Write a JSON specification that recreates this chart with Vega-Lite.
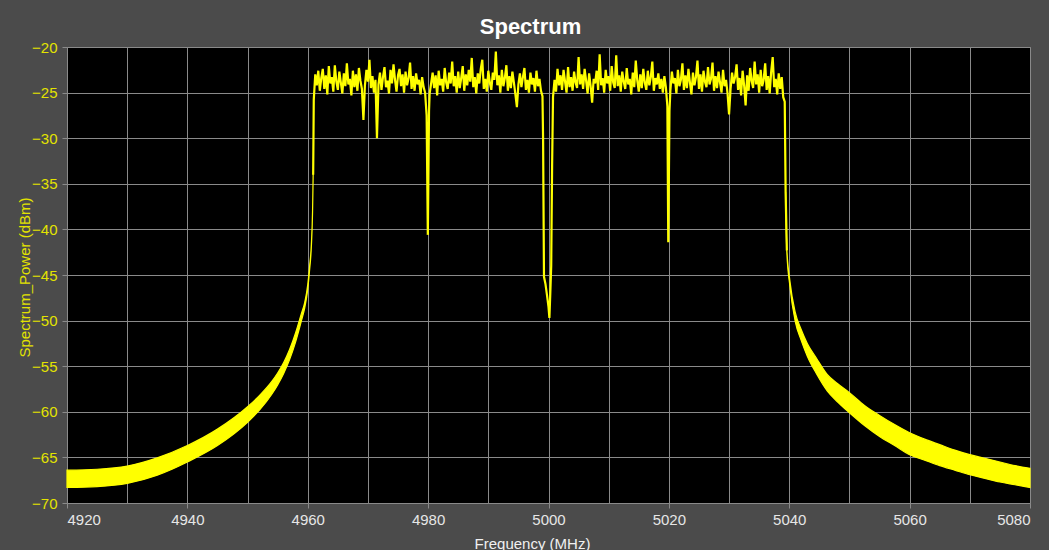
{
  "$schema": "https://vega.github.io/schema/vega-lite/v6.json",
  "width": 963,
  "height": 456,
  "autosize": {"type": "none"},
  "padding": {"left": 67, "top": 47, "right": 19, "bottom": 47},
  "background": "#4b4b4b",
  "title": {"text": "Spectrum", "color": "#ffffff", "font": "Liberation Sans", "fontSize": 22, "fontWeight": "bold", "anchor": "middle", "dx": -18, "offset": 1},
  "config": {
    "view": {"fill": "#000000", "stroke": "#7a7a7a", "strokeWidth": 1},
    "axis": {"labelFont": "Liberation Sans", "titleFont": "Liberation Sans", "labelFontSize": 15, "titleFontSize": 15, "titleFontWeight": "normal", "gridColor": "#8a8a8a", "gridWidth": 1, "gridOpacity": 1, "tickColor": "#8a8a8a", "tickSize": 5, "domain": false}
  },
  "datasets": {
    "skirt": [
      {"f": 4920, "lo": -68.3, "hi": -66.4, "s": "L"},
      {"f": 4925, "lo": -68.2, "hi": -66.3, "s": "L"},
      {"f": 4930, "lo": -67.85, "hi": -65.95, "s": "L"},
      {"f": 4935, "lo": -66.95, "hi": -65.05, "s": "L"},
      {"f": 4940, "lo": -65.5, "hi": -63.7, "s": "L"},
      {"f": 4945, "lo": -63.7, "hi": -61.9, "s": "L"},
      {"f": 4950, "lo": -61.15, "hi": -59.45, "s": "L"},
      {"f": 4952, "lo": -59.8, "hi": -58.2, "s": "L"},
      {"f": 4954, "lo": -58.1, "hi": -56.7, "s": "L"},
      {"f": 4955, "lo": -57.05, "hi": -55.75, "s": "L"},
      {"f": 4956, "lo": -55.8, "hi": -54.6, "s": "L"},
      {"f": 4957, "lo": -54.25, "hi": -53.15, "s": "L"},
      {"f": 4958, "lo": -52.3, "hi": -51.3, "s": "L"},
      {"f": 4959, "lo": -49.9, "hi": -49.1, "s": "L"},
      {"f": 4959.5, "lo": -48.6, "hi": -48.0, "s": "L"},
      {"f": 4960, "lo": -46.55, "hi": -46.05, "s": "L"},
      {"f": 4960.3, "lo": -44.5, "hi": -44.1, "s": "L"},
      {"f": 4960.6, "lo": -41.9, "hi": -41.6, "s": "L"},
      {"f": 4960.8, "lo": -38.1, "hi": -37.9, "s": "L"},
      {"f": 4960.9, "lo": -34.1, "hi": -33.9, "s": "L"},
      {"f": 5039.4, "lo": -36.2, "hi": -35.9, "s": "R"},
      {"f": 5039.6, "lo": -42.5, "hi": -42.1, "s": "R"},
      {"f": 5040.1, "lo": -46.2, "hi": -45.6, "s": "R"},
      {"f": 5041, "lo": -50.1, "hi": -49.1, "s": "R"},
      {"f": 5042, "lo": -52.2, "hi": -51.0, "s": "R"},
      {"f": 5043, "lo": -53.9, "hi": -52.5, "s": "R"},
      {"f": 5044.5, "lo": -55.8, "hi": -54.1, "s": "R"},
      {"f": 5046.3, "lo": -57.7, "hi": -55.9, "s": "R"},
      {"f": 5048, "lo": -58.9, "hi": -56.9, "s": "R"},
      {"f": 5050, "lo": -60.1, "hi": -57.9, "s": "R"},
      {"f": 5052.5, "lo": -61.5, "hi": -59.3, "s": "R"},
      {"f": 5055, "lo": -62.7, "hi": -60.4, "s": "R"},
      {"f": 5057.5, "lo": -63.7, "hi": -61.4, "s": "R"},
      {"f": 5060, "lo": -64.7, "hi": -62.3, "s": "R"},
      {"f": 5062.5, "lo": -65.3, "hi": -63.0, "s": "R"},
      {"f": 5065, "lo": -65.9, "hi": -63.6, "s": "R"},
      {"f": 5067.5, "lo": -66.4, "hi": -64.2, "s": "R"},
      {"f": 5070, "lo": -66.9, "hi": -64.7, "s": "R"},
      {"f": 5072.5, "lo": -67.3, "hi": -65.1, "s": "R"},
      {"f": 5075, "lo": -67.7, "hi": -65.5, "s": "R"},
      {"f": 5077.5, "lo": -68.0, "hi": -65.9, "s": "R"},
      {"f": 5080, "lo": -68.3, "hi": -66.2, "s": "R"}
    ],
    "band": [
      {"f": 4960.9, "p": -34.0},
      {"f": 4961.0, "p": -25.8}, {"f": 4961.25, "p": -23.0}, {"f": 4961.5, "p": -24.2}, {"f": 4961.75, "p": -22.6},
      {"f": 4962.0, "p": -24.8}, {"f": 4962.25, "p": -23.4}, {"f": 4962.5, "p": -22.4}, {"f": 4962.75, "p": -24.6},
      {"f": 4963.0, "p": -23.1}, {"f": 4963.25, "p": -25.2}, {"f": 4963.5, "p": -22.1}, {"f": 4963.75, "p": -24.0},
      {"f": 4964.0, "p": -23.3}, {"f": 4964.25, "p": -24.9}, {"f": 4964.5, "p": -22.0}, {"f": 4964.75, "p": -23.8},
      {"f": 4965.0, "p": -24.7}, {"f": 4965.25, "p": -22.7}, {"f": 4965.5, "p": -23.9}, {"f": 4965.75, "p": -25.1},
      {"f": 4966.0, "p": -22.9}, {"f": 4966.25, "p": -24.3}, {"f": 4966.5, "p": -21.8}, {"f": 4966.75, "p": -24.1},
      {"f": 4967.0, "p": -23.5}, {"f": 4967.25, "p": -25.3}, {"f": 4967.5, "p": -22.6}, {"f": 4967.75, "p": -24.4},
      {"f": 4968.0, "p": -23.0}, {"f": 4968.25, "p": -24.8}, {"f": 4968.5, "p": -22.3}, {"f": 4968.75, "p": -23.7},
      {"f": 4969.0, "p": -24.6}, {"f": 4969.25, "p": -28.0}, {"f": 4969.5, "p": -24.2}, {"f": 4969.75, "p": -22.5},
      {"f": 4970.0, "p": -23.8}, {"f": 4970.25, "p": -21.4}, {"f": 4970.5, "p": -24.5}, {"f": 4970.75, "p": -23.2},
      {"f": 4971.0, "p": -25.0}, {"f": 4971.25, "p": -23.6}, {"f": 4971.5, "p": -30.0}, {"f": 4971.75, "p": -24.1},
      {"f": 4972.0, "p": -22.8}, {"f": 4972.25, "p": -24.7}, {"f": 4972.5, "p": -23.3}, {"f": 4972.75, "p": -22.2},
      {"f": 4973.0, "p": -24.4}, {"f": 4973.25, "p": -23.7}, {"f": 4973.5, "p": -25.1}, {"f": 4973.75, "p": -22.5},
      {"f": 4974.0, "p": -24.0}, {"f": 4974.25, "p": -21.9}, {"f": 4974.5, "p": -23.6}, {"f": 4974.75, "p": -24.9},
      {"f": 4975.0, "p": -23.1}, {"f": 4975.25, "p": -22.4}, {"f": 4975.5, "p": -24.3}, {"f": 4975.75, "p": -23.0},
      {"f": 4976.0, "p": -25.0}, {"f": 4976.25, "p": -22.7}, {"f": 4976.5, "p": -24.2}, {"f": 4976.75, "p": -23.4},
      {"f": 4977.0, "p": -21.7}, {"f": 4977.25, "p": -24.6}, {"f": 4977.5, "p": -23.2}, {"f": 4977.75, "p": -24.8},
      {"f": 4978.0, "p": -22.9}, {"f": 4978.25, "p": -24.1}, {"f": 4978.5, "p": -23.6}, {"f": 4978.75, "p": -25.2},
      {"f": 4979.0, "p": -23.3}, {"f": 4979.25, "p": -24.4}, {"f": 4979.5, "p": -25.0}, {"f": 4979.75, "p": -27.5},
      {"f": 4979.95, "p": -40.6}, {"f": 4980.15, "p": -27.0},
      {"f": 4980.25, "p": -25.1}, {"f": 4980.5, "p": -24.0}, {"f": 4980.75, "p": -22.8},
      {"f": 4981.0, "p": -24.5}, {"f": 4981.25, "p": -23.1}, {"f": 4981.5, "p": -25.3}, {"f": 4981.75, "p": -22.6},
      {"f": 4982.0, "p": -24.2}, {"f": 4982.25, "p": -23.5}, {"f": 4982.5, "p": -24.9}, {"f": 4982.75, "p": -22.3},
      {"f": 4983.0, "p": -23.9}, {"f": 4983.25, "p": -24.6}, {"f": 4983.5, "p": -22.8}, {"f": 4983.75, "p": -24.0},
      {"f": 4984.0, "p": -21.6}, {"f": 4984.25, "p": -24.3}, {"f": 4984.5, "p": -23.2}, {"f": 4984.75, "p": -25.0},
      {"f": 4985.0, "p": -22.7}, {"f": 4985.25, "p": -24.5}, {"f": 4985.5, "p": -23.4}, {"f": 4985.75, "p": -22.1},
      {"f": 4986.0, "p": -24.8}, {"f": 4986.25, "p": -23.0}, {"f": 4986.5, "p": -24.2}, {"f": 4986.75, "p": -22.5},
      {"f": 4987.0, "p": -23.8}, {"f": 4987.25, "p": -21.2}, {"f": 4987.5, "p": -24.4}, {"f": 4987.75, "p": -23.3},
      {"f": 4988.0, "p": -25.1}, {"f": 4988.25, "p": -22.9}, {"f": 4988.5, "p": -24.0}, {"f": 4988.75, "p": -22.4},
      {"f": 4989.0, "p": -21.4}, {"f": 4989.25, "p": -24.6}, {"f": 4989.5, "p": -23.5}, {"f": 4989.75, "p": -24.9},
      {"f": 4990.0, "p": -22.6}, {"f": 4990.25, "p": -23.9}, {"f": 4990.5, "p": -24.7}, {"f": 4990.75, "p": -22.8},
      {"f": 4991.0, "p": -23.6}, {"f": 4991.25, "p": -20.5}, {"f": 4991.5, "p": -24.2}, {"f": 4991.75, "p": -23.1},
      {"f": 4992.0, "p": -25.0}, {"f": 4992.25, "p": -22.5}, {"f": 4992.5, "p": -24.3}, {"f": 4992.75, "p": -23.4},
      {"f": 4993.0, "p": -22.0}, {"f": 4993.25, "p": -24.8}, {"f": 4993.5, "p": -23.2}, {"f": 4993.75, "p": -24.5},
      {"f": 4994.0, "p": -22.7}, {"f": 4994.25, "p": -23.9}, {"f": 4994.5, "p": -25.2}, {"f": 4994.75, "p": -26.6},
      {"f": 4995.0, "p": -24.1}, {"f": 4995.25, "p": -22.9}, {"f": 4995.5, "p": -24.4}, {"f": 4995.75, "p": -23.3},
      {"f": 4996.0, "p": -22.3}, {"f": 4996.25, "p": -24.7}, {"f": 4996.5, "p": -23.6}, {"f": 4996.75, "p": -25.0},
      {"f": 4997.0, "p": -22.8}, {"f": 4997.25, "p": -24.1}, {"f": 4997.5, "p": -23.4}, {"f": 4997.75, "p": -24.9},
      {"f": 4998.0, "p": -22.6}, {"f": 4998.25, "p": -24.3}, {"f": 4998.5, "p": -23.5}, {"f": 4998.75, "p": -24.8},
      {"f": 4999.0, "p": -25.4}, {"f": 4999.1, "p": -30.0}, {"f": 4999.25, "p": -45.2}, {"f": 4999.5, "p": -46.0},
      {"f": 4999.75, "p": -47.2}, {"f": 5000.0, "p": -48.5}, {"f": 5000.15, "p": -49.7}, {"f": 5000.3, "p": -47.0},
      {"f": 5000.45, "p": -44.0}, {"f": 5000.6, "p": -33.0}, {"f": 5000.75, "p": -25.5},
      {"f": 5001.0, "p": -23.6}, {"f": 5001.25, "p": -24.9}, {"f": 5001.5, "p": -22.4}, {"f": 5001.75, "p": -24.2},
      {"f": 5002.0, "p": -23.1}, {"f": 5002.25, "p": -24.7}, {"f": 5002.5, "p": -22.5}, {"f": 5002.75, "p": -23.8},
      {"f": 5003.0, "p": -25.0}, {"f": 5003.25, "p": -22.2}, {"f": 5003.5, "p": -24.4}, {"f": 5003.75, "p": -23.3},
      {"f": 5004.0, "p": -24.8}, {"f": 5004.25, "p": -22.7}, {"f": 5004.5, "p": -23.9}, {"f": 5004.75, "p": -24.5},
      {"f": 5005.0, "p": -21.1}, {"f": 5005.25, "p": -24.1}, {"f": 5005.5, "p": -23.0}, {"f": 5005.75, "p": -24.6},
      {"f": 5006.0, "p": -22.4}, {"f": 5006.25, "p": -23.7}, {"f": 5006.5, "p": -25.1}, {"f": 5006.75, "p": -22.9},
      {"f": 5007.0, "p": -24.3}, {"f": 5007.25, "p": -26.1}, {"f": 5007.5, "p": -23.5}, {"f": 5007.75, "p": -24.0},
      {"f": 5008.0, "p": -22.6}, {"f": 5008.25, "p": -24.7}, {"f": 5008.5, "p": -20.8}, {"f": 5008.75, "p": -24.2},
      {"f": 5009.0, "p": -23.4}, {"f": 5009.25, "p": -25.0}, {"f": 5009.5, "p": -22.5}, {"f": 5009.75, "p": -24.0},
      {"f": 5010.0, "p": -23.2}, {"f": 5010.25, "p": -24.8}, {"f": 5010.5, "p": -22.1}, {"f": 5010.75, "p": -23.9},
      {"f": 5011.0, "p": -24.5}, {"f": 5011.25, "p": -20.9}, {"f": 5011.5, "p": -24.3}, {"f": 5011.75, "p": -23.1},
      {"f": 5012.0, "p": -24.9}, {"f": 5012.25, "p": -22.7}, {"f": 5012.5, "p": -23.8}, {"f": 5012.75, "p": -24.6},
      {"f": 5013.0, "p": -22.3}, {"f": 5013.25, "p": -24.1}, {"f": 5013.5, "p": -23.5}, {"f": 5013.75, "p": -25.2},
      {"f": 5014.0, "p": -22.8}, {"f": 5014.25, "p": -24.4}, {"f": 5014.5, "p": -21.5}, {"f": 5014.75, "p": -23.7},
      {"f": 5015.0, "p": -24.9}, {"f": 5015.25, "p": -23.0}, {"f": 5015.5, "p": -24.5}, {"f": 5015.75, "p": -22.4},
      {"f": 5016.0, "p": -23.9}, {"f": 5016.25, "p": -24.7}, {"f": 5016.5, "p": -22.6}, {"f": 5016.75, "p": -24.2},
      {"f": 5017.0, "p": -23.3}, {"f": 5017.25, "p": -21.6}, {"f": 5017.5, "p": -24.8}, {"f": 5017.75, "p": -23.4},
      {"f": 5018.0, "p": -24.1}, {"f": 5018.25, "p": -22.9}, {"f": 5018.5, "p": -24.6}, {"f": 5018.75, "p": -23.5},
      {"f": 5019.0, "p": -25.0}, {"f": 5019.25, "p": -23.2}, {"f": 5019.5, "p": -24.4}, {"f": 5019.75, "p": -26.5},
      {"f": 5019.9, "p": -41.4}, {"f": 5020.1, "p": -27.0},
      {"f": 5020.25, "p": -24.8}, {"f": 5020.5, "p": -22.7}, {"f": 5020.75, "p": -24.0},
      {"f": 5021.0, "p": -23.4}, {"f": 5021.25, "p": -25.1}, {"f": 5021.5, "p": -22.5}, {"f": 5021.75, "p": -24.3},
      {"f": 5022.0, "p": -23.6}, {"f": 5022.25, "p": -21.8}, {"f": 5022.5, "p": -24.7}, {"f": 5022.75, "p": -23.1},
      {"f": 5023.0, "p": -24.5}, {"f": 5023.25, "p": -22.4}, {"f": 5023.5, "p": -23.9}, {"f": 5023.75, "p": -25.2},
      {"f": 5024.0, "p": -22.8}, {"f": 5024.25, "p": -24.2}, {"f": 5024.5, "p": -23.3}, {"f": 5024.75, "p": -21.5},
      {"f": 5025.0, "p": -24.6}, {"f": 5025.25, "p": -23.0}, {"f": 5025.5, "p": -24.9}, {"f": 5025.75, "p": -22.6},
      {"f": 5026.0, "p": -23.8}, {"f": 5026.25, "p": -24.4}, {"f": 5026.5, "p": -22.2}, {"f": 5026.75, "p": -24.1},
      {"f": 5027.0, "p": -23.5}, {"f": 5027.25, "p": -21.7}, {"f": 5027.5, "p": -24.8}, {"f": 5027.75, "p": -23.2},
      {"f": 5028.0, "p": -24.5}, {"f": 5028.25, "p": -22.7}, {"f": 5028.5, "p": -23.9}, {"f": 5028.75, "p": -25.0},
      {"f": 5029.0, "p": -22.5}, {"f": 5029.25, "p": -24.3}, {"f": 5029.5, "p": -23.6}, {"f": 5029.75, "p": -25.1},
      {"f": 5030.0, "p": -27.4}, {"f": 5030.25, "p": -24.6}, {"f": 5030.5, "p": -22.8}, {"f": 5030.75, "p": -24.0},
      {"f": 5031.0, "p": -23.3}, {"f": 5031.25, "p": -21.9}, {"f": 5031.5, "p": -24.7}, {"f": 5031.75, "p": -23.4},
      {"f": 5032.0, "p": -25.3}, {"f": 5032.25, "p": -22.6}, {"f": 5032.5, "p": -24.2}, {"f": 5032.75, "p": -26.4},
      {"f": 5033.0, "p": -23.1}, {"f": 5033.25, "p": -24.8}, {"f": 5033.5, "p": -22.3}, {"f": 5033.75, "p": -23.7},
      {"f": 5034.0, "p": -24.5}, {"f": 5034.25, "p": -21.6}, {"f": 5034.5, "p": -24.1}, {"f": 5034.75, "p": -23.0},
      {"f": 5035.0, "p": -25.0}, {"f": 5035.25, "p": -22.5}, {"f": 5035.5, "p": -24.3}, {"f": 5035.75, "p": -23.6},
      {"f": 5036.0, "p": -21.8}, {"f": 5036.25, "p": -24.7}, {"f": 5036.5, "p": -23.2}, {"f": 5036.75, "p": -25.1},
      {"f": 5037.0, "p": -22.7}, {"f": 5037.25, "p": -21.1}, {"f": 5037.5, "p": -24.4}, {"f": 5037.75, "p": -23.5},
      {"f": 5038.0, "p": -25.2}, {"f": 5038.25, "p": -22.9}, {"f": 5038.5, "p": -24.6}, {"f": 5038.75, "p": -23.3},
      {"f": 5039.0, "p": -25.5}, {"f": 5039.25, "p": -26.0}, {"f": 5039.4, "p": -36.0}, {"f": 5039.6, "p": -42.3}
    ]
  },
  "layer": [
    {
      "data": {"name": "skirt"},
      "mark": {"type": "area", "color": "#ffff00", "stroke": "#ffff00", "strokeWidth": 1.2, "interpolate": "monotone"},
      "encoding": {
        "x": {"field": "f", "type": "quantitative", "scale": {"domain": [4920, 5080], "nice": false, "zero": false},
          "axis": {"title": "Frequency (MHz)", "values": [4920, 4930, 4940, 4950, 4960, 4970, 4980, 4990, 5000, 5010, 5020, 5030, 5040, 5050, 5060, 5070, 5080],
            "labelExpr": "datum.value % 20 === 0 ? datum.label : ''", "format": "d", "labelColor": "#e6e6e6", "titleColor": "#f0f0f0",
            "tickOpacity": {"condition": {"test": "datum.value % 20 === 0", "value": 1}, "value": 0},
            "labelPadding": 4, "titleX": 465, "titleY": 45, "titleBaseline": "alphabetic"}},
        "y": {"field": "lo", "type": "quantitative", "scale": {"domain": [-70, -20], "nice": false, "zero": false},
          "axis": {"title": "Spectrum_Power (dBm)", "values": [-70, -67.5, -65, -62.5, -60, -57.5, -55, -52.5, -50, -47.5, -45, -42.5, -40, -37.5, -35, -32.5, -30, -27.5, -25, -22.5, -20],
            "labelExpr": "datum.value % 5 === 0 ? datum.label : ''", "labelColor": "#e3e300", "titleColor": "#e3e300",
            "tickOpacity": {"condition": {"test": "datum.value % 5 === 0", "value": 1}, "value": 0},
            "labelPadding": 5, "titleX": -38, "titleY": 230, "titleBaseline": "alphabetic"}},
        "y2": {"field": "hi"},
        "detail": {"field": "s", "type": "nominal"}
      }
    },
    {
      "data": {"name": "band"},
      "mark": {"type": "line", "color": "#ffff00", "strokeWidth": 2.2, "strokeJoin": "miter"},
      "encoding": {
        "x": {"field": "f", "type": "quantitative"},
        "y": {"field": "p", "type": "quantitative"}
      }
    }
  ]
}
